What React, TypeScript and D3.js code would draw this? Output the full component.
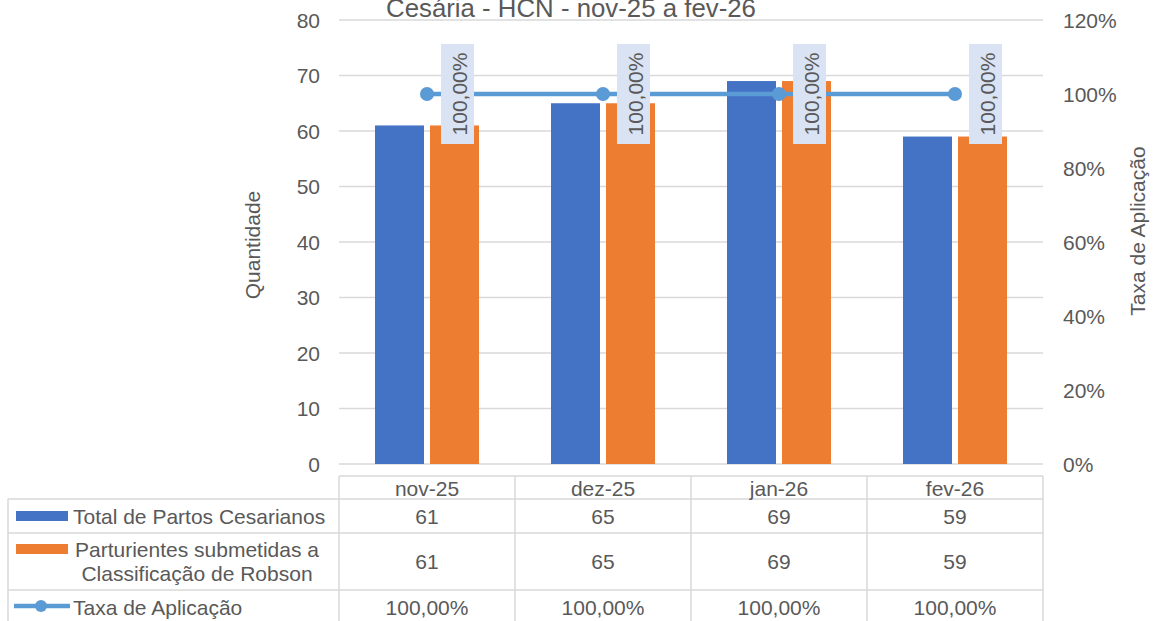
import React from "react";
import * as d3 from "d3";

const categories = ["nov-25", "dez-25", "jan-26", "fev-26"];
const totalPartos = [61, 65, 69, 59];
const robson = [61, 65, 69, 59];
const taxa = [1, 1, 1, 1];
const leftTicks = [0, 10, 20, 30, 40, 50, 60, 70, 80];
const rightTicks = [0, 0.2, 0.4, 0.6, 0.8, 1.0, 1.2];
const seriesNames = ["Total de Partos Cesarianos", "Parturientes submetidas a Classificação de Robson", "Taxa de Aplicação"];
const title = "Cesária - HCN - nov-25 a fev-26";

const W = 1155, H = 621;
const plotL = 339, plotR = 1043, plotT = 20, plotB = 464;
const TXT = "#595959";
const GRID = "#D9D9D9";
const BLUE = "#4472C4", ORANGE = "#ED7D31", LINE = "#5B9BD5", LABELBG = "#DAE3F3";
const FONT = "'Liberation Sans', Arial, sans-serif";
const FS = 21;

const fmtPct = (v: number) => (v * 100).toFixed(2).replace(".", ",") + "%";
const fmtTick = (v: number) => Math.round(v * 100) + "%";

export default function App() {
  const x0 = d3.scaleBand<string>().domain(categories).range([plotL, plotR]).padding(0);
  const x1 = d3.scaleBand<string>().domain(["a", "b"]).range([-52, 52]).paddingInner(6 / 55).paddingOuter(0);
  const y = d3.scaleLinear().domain([0, 80]).range([plotB, plotT]);
  const y2 = d3.scaleLinear().domain([0, 1.2]).range([plotB, plotT]);
  const cx = (c: string) => (x0(c) as number) + x0.bandwidth() / 2;

  const linePath = d3.line<number>()
    .x((_, i) => cx(categories[i]))
    .y((d) => y2(d))(taxa) as string;

  // table geometry
  const tHeadTop = 476, r1 = 499, r2 = 533, r3 = 590, tBot = 630;
  const tLeft = 8;
  const colEdges = categories.map((c) => x0(c) as number).concat([plotR]);

  return (
    <svg width={W} height={H} style={{ position: "absolute", left: 0, top: 0, display: "block" }} fontFamily={FONT}>
      <rect x={0} y={0} width={W} height={H} fill="#fff" />
      {/* title */}
      <text x={571} y={17} textAnchor="middle" fontSize={25.8} fill={TXT}>{title}</text>

      {/* gridlines */}
      {leftTicks.map((t) => (
        <line key={"g" + t} x1={plotL} x2={plotR} y1={y(t)} y2={y(t)} stroke={GRID} strokeWidth={1.3} />
      ))}
      {/* left ticks */}
      {leftTicks.map((t) => (
        <text key={"lt" + t} x={320} y={y(t)} textAnchor="end" dominantBaseline="central" fontSize={FS} fill={TXT}>{t}</text>
      ))}
      {/* right ticks */}
      {rightTicks.map((t) => (
        <text key={"rt" + t} x={1063} y={y2(t)} textAnchor="start" dominantBaseline="central" fontSize={FS} fill={TXT}>{fmtTick(t)}</text>
      ))}
      {/* axis titles */}
      <text transform={`translate(260,245) rotate(-90)`} textAnchor="middle" fontSize={FS} fill={TXT}>Quantidade</text>
      <text transform={`translate(1145,231) rotate(-90)`} textAnchor="middle" fontSize={FS} fill={TXT}>Taxa de Aplicação</text>

      {/* bars */}
      {categories.map((c, i) => (
        <g key={"b" + c}>
          <rect x={cx(c) + (x1("a") as number)} width={x1.bandwidth()} y={y(totalPartos[i])} height={plotB - y(totalPartos[i])} fill={BLUE} />
          <rect x={cx(c) + (x1("b") as number)} width={x1.bandwidth()} y={y(robson[i])} height={plotB - y(robson[i])} fill={ORANGE} />
        </g>
      ))}

      {/* line */}
      <path d={linePath} fill="none" stroke={LINE} strokeWidth={4.5} strokeLinejoin="round" />
      {categories.map((c, i) => (
        <circle key={"m" + c} cx={cx(c)} cy={y2(taxa[i])} r={7} fill={LINE} />
      ))}

      {/* data labels */}
      {categories.map((c, i) => (
        <g key={"dl" + c}>
          <rect x={cx(c) + 14} y={y2(taxa[i]) - 50} width={33} height={100} fill={LABELBG} />
          <text transform={`translate(${cx(c) + 32.5},${y2(taxa[i])}) rotate(-90)`} textAnchor="middle" dominantBaseline="central" fontSize={FS} fill={TXT}>{fmtPct(taxa[i])}</text>
        </g>
      ))}

      {/* data table lines */}
      <g stroke={GRID} strokeWidth={1.5}>
        <line x1={plotL} x2={plotR} y1={tHeadTop} y2={tHeadTop} />
        {[r1, r2, r3].map((ry) => (
          <line key={"hr" + ry} x1={tLeft} x2={plotR} y1={ry} y2={ry} />
        ))}
        <line x1={tLeft} x2={tLeft} y1={r1} y2={tBot} />
        {colEdges.map((ex) => (
          <line key={"vc" + ex} x1={ex} x2={ex} y1={tHeadTop} y2={tBot} />
        ))}
      </g>

      {/* table header */}
      {categories.map((c) => (
        <text key={"th" + c} x={cx(c)} y={488} textAnchor="middle" dominantBaseline="central" fontSize={FS} fill={TXT}>{c}</text>
      ))}
      {/* table values */}
      {categories.map((c, i) => (
        <g key={"tv" + c}>
          <text x={cx(c)} y={516} textAnchor="middle" dominantBaseline="central" fontSize={FS} fill={TXT}>{totalPartos[i]}</text>
          <text x={cx(c)} y={561} textAnchor="middle" dominantBaseline="central" fontSize={FS} fill={TXT}>{robson[i]}</text>
          <text x={cx(c)} y={607} textAnchor="middle" dominantBaseline="central" fontSize={FS} fill={TXT}>{fmtPct(taxa[i])}</text>
        </g>
      ))}

      {/* legend keys + series names */}
      <rect x={16} y={511} width={52} height={10} fill={BLUE} />
      <text x={73} y={516} dominantBaseline="central" fontSize={FS} fill={TXT}>{seriesNames[0]}</text>

      <rect x={16} y={544} width={52} height={10} fill={ORANGE} />
      <text x={197} y={549} textAnchor="middle" dominantBaseline="central" fontSize={FS} fill={TXT}>Parturientes submetidas a</text>
      <text x={197} y={573} textAnchor="middle" dominantBaseline="central" fontSize={FS} fill={TXT}>Classificação de Robson</text>

      <line x1={14} x2={70} y1={606} y2={606} stroke={LINE} strokeWidth={4.5} />
      <circle cx={41} cy={606} r={6} fill={LINE} />
      <text x={73} y={607} dominantBaseline="central" fontSize={FS} fill={TXT}>{seriesNames[2]}</text>
    </svg>
  );
}
